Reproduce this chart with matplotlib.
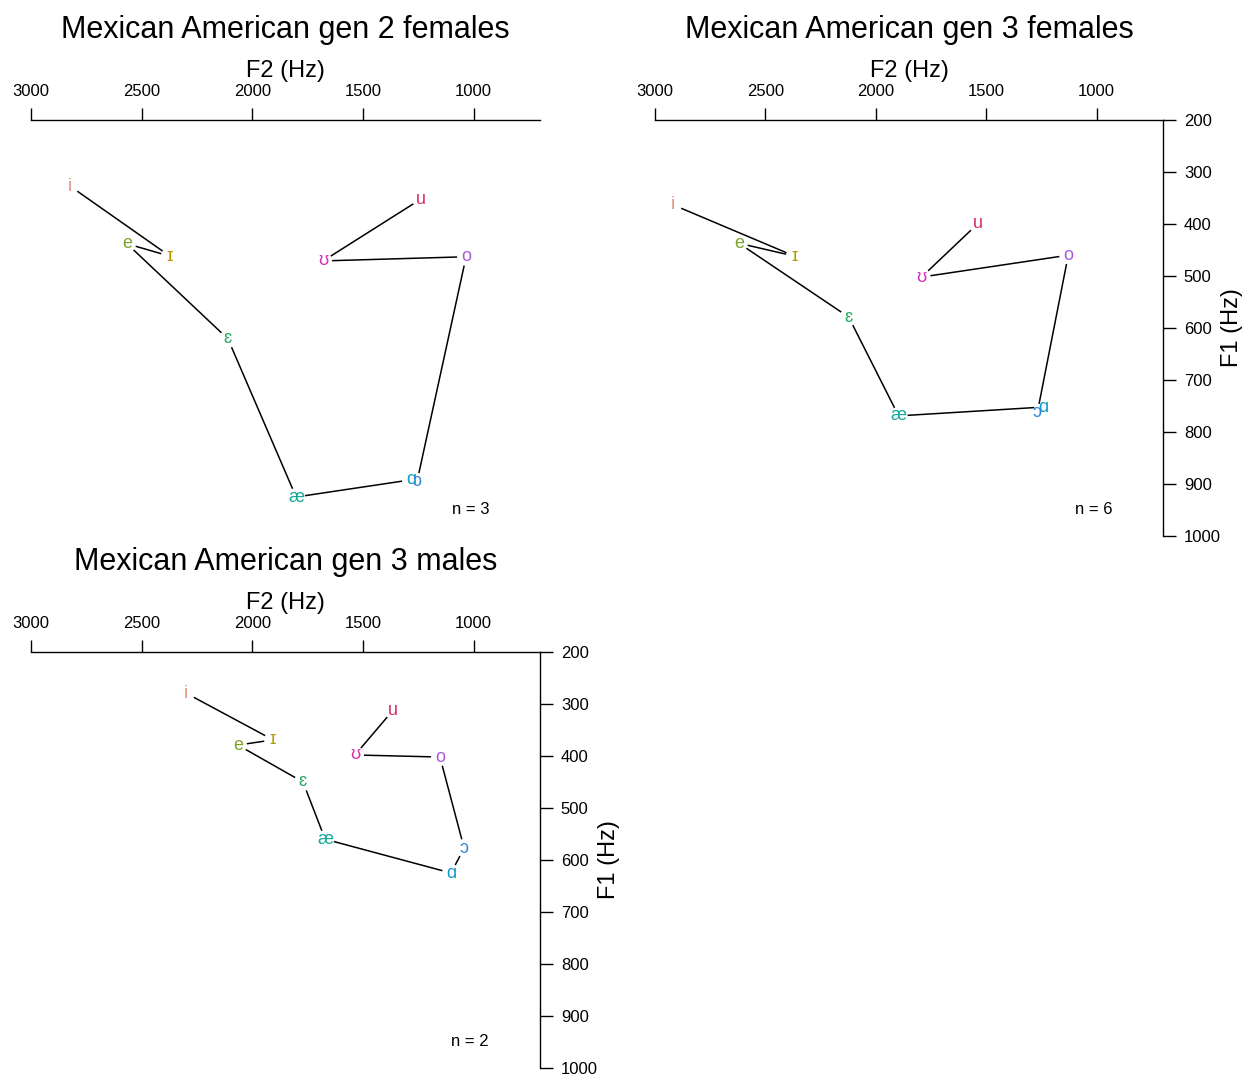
import matplotlib
matplotlib.use("Agg")
import matplotlib.pyplot as plt
import numpy as np

plt.rcParams['font.family'] = ['Liberation Sans', 'DejaVu Sans']

W, H = 1244, 1076

vowels = ["i", "ɪ", "e", "ɛ", "æ", "ɑ", "ɔ", "o", "ʊ", "u"]
colors = ["#E0937A", "#B39C00", "#7AA52A", "#25A95E", "#14A99A",
          "#109BC8", "#2D88DE", "#A65BDD", "#D630B2", "#D3316A"]

titles = ["Mexican American gen 2 females",
          "Mexican American gen 3 females",
          "Mexican American gen 3 males"]
n_labels = ["n = 3", "n = 6", "n = 2"]

# F2 (Hz) and F1 (Hz) per vowel, same order as `vowels`
f2_gen2_f = [2824, 2372, 2566, 2110, 1802, 1283, 1256, 1034, 1680, 1238]
f1_gen2_f = [327, 462, 438, 621, 925, 892, 896, 463, 471, 352]
f2_gen3_f = [2919, 2367, 2620, 2123, 1897, 1242, 1269, 1129, 1793, 1540]
f1_gen3_f = [363, 462, 437, 579, 769, 752, 763, 460, 502, 400]
f2_gen3_m = [2300, 1906, 2065, 1771, 1671, 1102, 1043, 1152, 1536, 1364]
f1_gen3_m = [279, 369, 379, 450, 560, 625, 577, 402, 398, 312]

panels = [(f2_gen2_f, f1_gen2_f), (f2_gen3_f, f1_gen3_f), (f2_gen3_m, f1_gen3_m)]
# pixel boxes: left, top, right, bottom
boxes = [(31, 120, 540, 536), (655, 120, 1163, 536), (31, 652, 540, 1068)]
show_f1 = [False, True, True]

xticks = [3000, 2500, 2000, 1500, 1000]
yticks = [200, 300, 400, 500, 600, 700, 800, 900, 1000]

fig = plt.figure(figsize=(W / 100, H / 100), dpi=100)

GAP = 9.0  # px gap between line ends and labels

for k in range(3):
    l, t, r, b = boxes[k]
    ax = fig.add_axes([l / W, 1 - b / H, (r - l) / W, (b - t) / H])
    ax.set_xlim(3000, 700)
    ax.set_ylim(1000, 200)
    for s in ["left", "bottom"]:
        ax.spines[s].set_visible(False)
    ax.spines["top"].set_linewidth(1.0)
    ax.spines["right"].set_linewidth(1.0)
    ax.spines["right"].set_visible(show_f1[k])
    ax.xaxis.tick_top()
    ax.set_xticks(xticks)
    ax.set_xticklabels([str(v) for v in xticks])
    ax.tick_params(axis="x", direction="out", length=9, width=1.0, pad=6, labelsize=12)
    if show_f1[k]:
        ax.yaxis.tick_right()
        ax.set_yticks(yticks)
        ax.set_yticklabels([str(v) for v in yticks])
        ax.tick_params(axis="y", direction="out", length=9, width=1.0, pad=6, labelsize=12)
    else:
        ax.set_yticks([])
    ax.patch.set_visible(False)

    f2, f1 = panels[k]
    # lines with gaps
    pts = ax.transData.transform(np.column_stack([f2, f1]))
    inv = ax.transData.inverted()
    for j in range(len(vowels) - 1):
        p0, p1 = pts[j], pts[j + 1]
        d = p1 - p0
        L = np.hypot(*d)
        if L <= 2 * GAP:
            continue
        u = d / L
        a = inv.transform(p0 + u * GAP)
        c = inv.transform(p1 - u * GAP)
        ax.plot([a[0], c[0]], [a[1], c[1]], color="black", lw=1.1,
                solid_capstyle="butt", clip_on=False)
    for j, v in enumerate(vowels):
        ax.text(f2[j], f1[j], v, color=colors[j], fontsize=13,
                ha="center", va="center", clip_on=False)

    ax.text(0.90, 0.063, n_labels[k], transform=ax.transAxes, ha="right",
            va="center", fontsize=12)

    cx = (l + r) / 2
    fig.text(cx / W, 1 - (t - 90) / H, titles[k], ha="center", va="center", fontsize=22)
    fig.text(cx / W, 1 - (t - 49) / H, "F2 (Hz)", ha="center", va="center", fontsize=17)
    if show_f1[k]:
        fig.text((r + 69) / W, 1 - ((t + b) / 2) / H, "F1 (Hz)", ha="center",
                 va="center", rotation=90, fontsize=17)

fig.savefig("out.png", dpi=100)
